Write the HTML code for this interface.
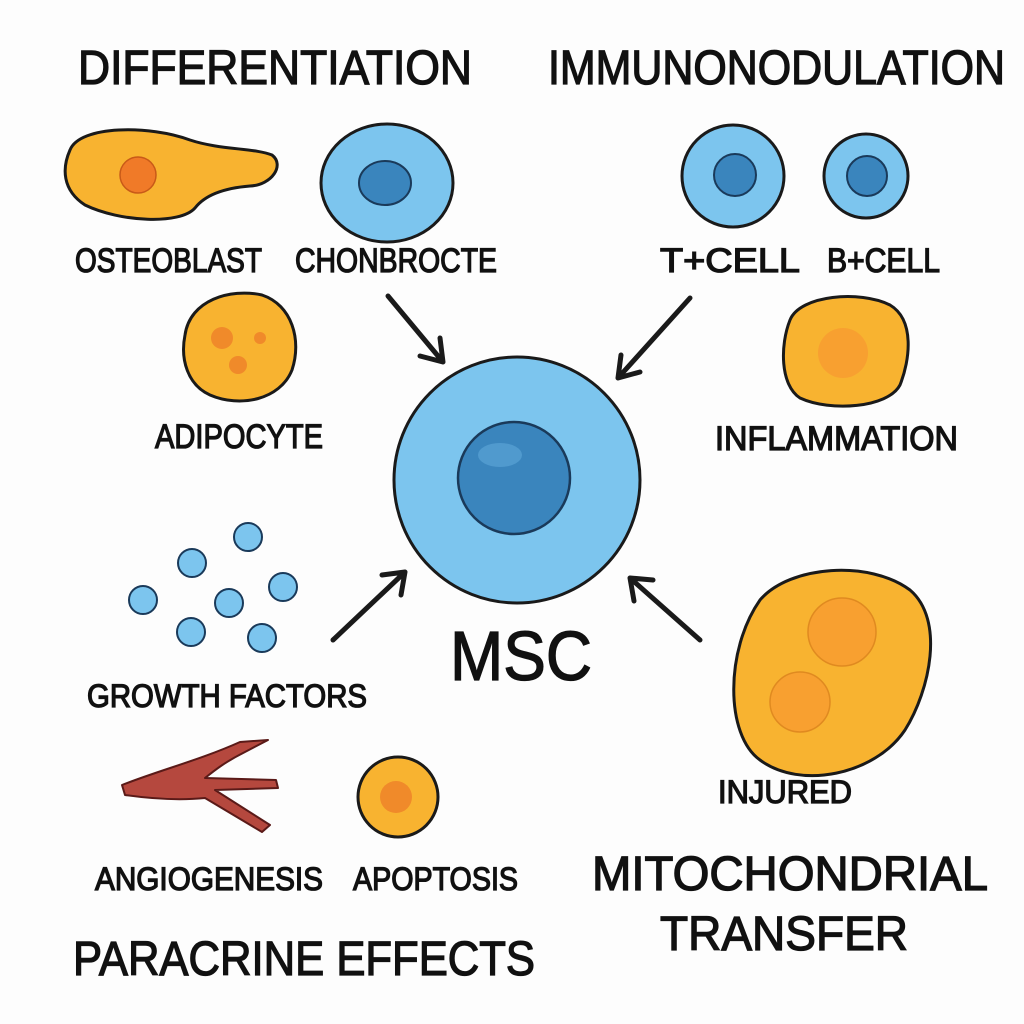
<!DOCTYPE html>
<html><head><meta charset="utf-8"><style>html,body{margin:0;padding:0;background:#fdfdfd}svg{display:block}text{font-family:"Liberation Sans",sans-serif;fill:#111;stroke:#111;stroke-width:1.3px}</style></head>
<body>
<svg width="1024" height="1024" viewBox="0 0 1024 1024" xmlns="http://www.w3.org/2000/svg">
<rect width="1024" height="1024" fill="#fdfdfd"/>
<text x="78" y="84" font-size="48" textLength="394" lengthAdjust="spacingAndGlyphs">DIFFERENTIATION</text>
<text x="548" y="84" font-size="48" textLength="457" lengthAdjust="spacingAndGlyphs">IMMUNONODULATION</text>
<path d="M70,150 C80,125 150,125 190,140 C220,150 255,148 272,155 C285,165 272,185 250,186 C225,188 205,195 195,208 C180,225 120,222 85,205 C62,190 62,168 70,150 Z" fill="#f8b330" stroke="#1a1a1a" stroke-width="3"/>
<circle cx="138" cy="175" r="18" fill="#f07a28" stroke="#c85a18" stroke-width="1.5"/>
<ellipse cx="387" cy="183" rx="66" ry="59" fill="#7cc5ee" stroke="#1a1a1a" stroke-width="3"/>
<ellipse cx="385" cy="183" rx="26" ry="22" fill="#3a85bd" stroke="#1a3a5a" stroke-width="2"/>
<text x="75" y="272" font-size="34" textLength="187" lengthAdjust="spacingAndGlyphs">OSTEOBLAST</text>
<text x="295" y="272" font-size="34" textLength="202" lengthAdjust="spacingAndGlyphs">CHONBROCTE</text>
<circle cx="733" cy="176" r="51" fill="#7cc5ee" stroke="#1a1a1a" stroke-width="3"/>
<circle cx="735" cy="175" r="21" fill="#3a85bd" stroke="#1a3a5a" stroke-width="2"/>
<circle cx="866" cy="176" r="42" fill="#7cc5ee" stroke="#1a1a1a" stroke-width="3"/>
<circle cx="867" cy="176" r="20" fill="#3a85bd" stroke="#1a3a5a" stroke-width="2"/>
<text x="660" y="272" font-size="34" textLength="140" lengthAdjust="spacingAndGlyphs">T+CELL</text>
<text x="827" y="272" font-size="34" textLength="113" lengthAdjust="spacingAndGlyphs">B+CELL</text>
<path d="M185,335 C190,300 230,288 262,295 C292,305 302,340 292,370 C280,400 240,408 210,395 C188,385 180,360 185,335 Z" fill="#f8b330" stroke="#1a1a1a" stroke-width="3"/>
<circle cx="222" cy="338" r="11" fill="#f08a2a"/>
<circle cx="260" cy="338" r="6" fill="#f08a2a"/>
<circle cx="238" cy="365" r="9" fill="#f08a2a"/>
<text x="155" y="448" font-size="34" textLength="168" lengthAdjust="spacingAndGlyphs">ADIPOCYTE</text>
<path d="M790,320 C800,295 860,290 890,305 C915,320 910,360 900,385 C888,408 830,412 800,398 C780,385 780,345 790,320 Z" fill="#f8b330" stroke="#1a1a1a" stroke-width="3"/>
<circle cx="843" cy="353" r="25" fill="#f8a030"/>
<text x="715" y="450" font-size="34" textLength="243" lengthAdjust="spacingAndGlyphs">INFLAMMATION</text>
<g stroke="#1a1a1a" stroke-width="5" fill="none" stroke-linecap="round" stroke-linejoin="round">
<path d="M388,296 L443,362 M443,362 L440,338 M443,362 L420,356"/>
<path d="M690,298 L618,378 M618,378 L640,372 M618,378 L621,355"/>
<path d="M333,640 L405,572 M405,572 L382,575 M405,572 L401,595"/>
<path d="M700,640 L630,578 M630,578 L634,601 M630,578 L653,580"/>
</g>
<circle cx="517" cy="480" r="123" fill="#7cc5ee" stroke="#1a1a1a" stroke-width="3"/>
<circle cx="514" cy="478" r="56" fill="#3a85bd" stroke="#1a3a5a" stroke-width="2.5"/>
<ellipse cx="500" cy="455" rx="22" ry="12" fill="#5aa3d6" opacity="0.7"/>
<text x="450" y="680" font-size="70" textLength="142" lengthAdjust="spacingAndGlyphs">MSC</text>
<g fill="#7cc5ee" stroke="#1a3a5a" stroke-width="2">
<circle cx="248" cy="537" r="14"/><circle cx="192" cy="563" r="14"/><circle cx="283" cy="587" r="14"/>
<circle cx="143" cy="600" r="14"/><circle cx="229" cy="603" r="14"/><circle cx="191" cy="632" r="14"/><circle cx="262" cy="638" r="14"/>
</g>
<text x="87" y="707" font-size="32" textLength="280" lengthAdjust="spacingAndGlyphs">GROWTH FACTORS</text>
<path d="M760,600 C790,565 870,560 910,590 C945,620 930,690 905,730 C875,775 800,790 760,760 C725,735 725,650 760,600 Z" fill="#f8b330" stroke="#1a1a1a" stroke-width="3"/>
<circle cx="842" cy="632" r="34" fill="#f8a030" stroke="#e08a20" stroke-width="1.5"/>
<circle cx="800" cy="702" r="30" fill="#f8a030" stroke="#e08a20" stroke-width="1.5"/>
<text x="718" y="803" font-size="32" textLength="134" lengthAdjust="spacingAndGlyphs">INJURED</text>
<g fill="#b5483e" stroke="#5a1a18" stroke-width="2" stroke-linejoin="round">
<path d="M122,785 C160,770 200,760 240,742 L268,740 L245,752 C225,762 215,770 205,778 L276,780 L278,788 L215,790 L270,825 L262,832 L205,798 C185,800 160,800 125,795 Z"/>
</g>
<circle cx="398" cy="797" r="40" fill="#f8b330" stroke="#1a1a1a" stroke-width="3"/>
<circle cx="396" cy="797" r="16" fill="#f08a2a"/>
<text x="95" y="890" font-size="32" textLength="228" lengthAdjust="spacingAndGlyphs">ANGIOGENESIS</text>
<text x="353" y="890" font-size="32" textLength="165" lengthAdjust="spacingAndGlyphs">APOPTOSIS</text>
<text x="592" y="890" font-size="48" textLength="396" lengthAdjust="spacingAndGlyphs">MITOCHONDRIAL</text>
<text x="660" y="950" font-size="48" textLength="248" lengthAdjust="spacingAndGlyphs">TRANSFER</text>
<text x="73" y="975" font-size="48" textLength="462" lengthAdjust="spacingAndGlyphs">PARACRINE EFFECTS</text>
</svg>
</body></html>
